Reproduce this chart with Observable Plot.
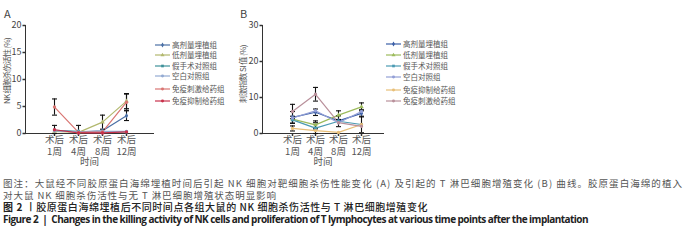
<!DOCTYPE html>
<html><head><meta charset="utf-8">
<script src="https://cdn.jsdelivr.net/npm/d3@7"></script>
<script src="https://cdn.jsdelivr.net/npm/@observablehq/plot@0.6"></script>
<style>
body{margin:0;background:#fff;font-family:"Noto Sans CJK SC","Noto Sans",sans-serif;}
#root{position:relative;width:700px;height:250px;overflow:hidden;background:#fff;}
.panel{position:absolute;font-size:11px;color:#444;line-height:1;}
.ylab{position:absolute;font-size:8px;color:#555;white-space:nowrap;line-height:1;}
.leg{position:absolute;font-size:7.5px;color:#555;display:flex;align-items:center;white-space:nowrap;line-height:1;}
.leg svg{margin-right:2px;}
.cap{position:absolute;left:3px;white-space:nowrap;line-height:1;}
</style></head><body><div id="root"></div>
<script>
// ---------- data ----------
const weeks = ["术后\n1周", "术后\n4周", "术后\n8周", "术后\n12周"];

const groupsA = ["高剂量埋植组", "低剂量埋植组", "假手术对照组", "空白对照组", "免疫刺激给药组", "免疫抑制给药组"];
const colorsA = ["#4a6fa5", "#b2b86e", "#3d9099", "#93aad2", "#d97572", "#c8304a"];
const symbolsA = ["diamond", "triangle", "square", "circle", "circle", "circle"];
const yTicksA = [0, 5, 10, 15, 20];
const nkHigh = [0.5, 0.3, 0.5, 3.3];
const nkLow = [0.4, 0.2, 2.1, 6.0];
const nkSham = [0.6, 0.4, 0.3, 0.3];
const nkBlank = [0.5, 0.3, 0.4, 0.4];
const nkStim = [4.9, 0.2, 0.3, 5.8];
const nkSupp = [0.7, 0.1, 0.1, 0.3];
const nkHighErr = [null, null, null, 0.9];
const nkLowErr = [null, null, 1.3, 1.4];
const nkShamErr = [null, 1.1, null, null];
const nkStimErr = [1.5, null, null, 1.5];
const nkSuppErr = [0.8, null, null, null];

const groupsB = ["高剂量埋植组", "低剂量埋植组", "假手术对照组", "空白对照组", "免疫抑制给药组", "免疫刺激给药组"];
const colorsB = ["#3a5ea6", "#9cbb5c", "#4a9ab2", "#939fd6", "#e8bf78", "#b9909b"];
const symbolsB = ["diamond", "triangle", "square", "circle", "circle", "circle"];
const yTicksB = [0, 10, 20, 30];
const siHigh = [4.5, 5.9, 3.5, 5.6];
const siLow = [4.0, 2.4, 5.1, 7.4];
const siSham = [3.8, 1.5, 3.4, 2.5];
const siBlank = [4.3, 6.3, 3.0, 6.1];
const siSupp = [1.4, 0.8, 0.3, 2.5];
const siStim = [6.1, 10.9, 3.0, 2.0];
const siHighErr = [1.6, 0.9, null, 1.0];
const siLowErr = [null, 1.1, 1.2, 1.1];
const siShamErr = [1.0, 1.5, 1.5, 2.3];
const siSuppErr = [0.7, null, null, null];
const siStimErr = [2.0, 1.9, null, null];

// ---------- build tables ----------
function table(groups, series, errs) {
  const rows = [];
  groups.forEach((g, i) => series[i].forEach((v, j) => rows.push({group: g, week: weeks[j], value: v, err: errs[i] ? errs[i][j] : null})));
  return rows;
}
const dataA = table(groupsA, [nkHigh, nkLow, nkSham, nkBlank, nkStim, nkSupp], [nkHighErr, nkLowErr, nkShamErr, null, nkStimErr, nkSuppErr]);
const dataB = table(groupsB, [siHigh, siLow, siSham, siBlank, siSupp, siStim], [siHighErr, siLowErr, siShamErr, null, siSuppErr, siStimErr]);

const cap = {draw(ctx) { ctx.moveTo(-2.5, 0); ctx.lineTo(2.5, 0); }};
const hTick = {draw(ctx) { ctx.moveTo(-3, 0); ctx.lineTo(0, 0); }};
const vTick = {draw(ctx) { ctx.moveTo(0, 0); ctx.lineTo(0, 2.5); }};
const font = '"Noto Sans CJK SC", "Noto Sans", sans-serif';

function panel(data, groups, colors, symbols, ymax, yticks, xrange, marginLeft, width) {
  const errs = data.filter(d => d.err != null);
  return Plot.plot({
    width: width, height: 175,
    marginLeft: marginLeft, marginRight: 2, marginTop: 25, marginBottom: 42,
    style: {fontSize: "9px", fontFamily: font, color: "#555", background: "transparent", overflow: "visible"},
    x: {type: "point", domain: weeks, range: xrange, axis: null},
    y: {domain: [0, ymax], axis: null},
    color: {domain: groups, range: colors},
    symbol: {domain: groups, range: symbols},
    marks: [
      Plot.frame({anchor: "left", stroke: "#333"}),
      Plot.frame({anchor: "bottom", stroke: "#333"}),
      Plot.dot(yticks, {y: d => d, frameAnchor: "left", symbol: hTick, stroke: "#333", r: 2}),
      Plot.text(yticks, {y: d => d, text: d => String(d), frameAnchor: "left", textAnchor: "end", dx: -4, fontSize: 9, fill: "#444"}),
      Plot.dot(weeks, {x: d => d, frameAnchor: "bottom", symbol: vTick, stroke: "#333", r: 2}),
      Plot.text(weeks, {x: d => d, text: d => d, frameAnchor: "bottom", lineAnchor: "top", dy: 1.5, lineHeight: 1.25, fontSize: 9.5, fill: "#555"}),
      Plot.text(["时间"], {frameAnchor: "bottom", dy: 31, fontSize: 9.5, fill: "#555"}),
      Plot.line(data, {x: "week", y: "value", z: "group", stroke: "group", strokeWidth: 1.2}),
      Plot.ruleX(errs, {x: "week", y1: d => Math.max(0, d.value - d.err), y2: d => d.value + d.err, stroke: "#111", strokeWidth: 1.1}),
      Plot.dot(errs, {x: "week", y: d => d.value + d.err, symbol: cap, stroke: "#111", strokeWidth: 1.1, r: 2}),
      Plot.dot(errs, {x: "week", y: d => Math.max(0, d.value - d.err), symbol: cap, stroke: "#111", strokeWidth: 1.1, r: 2}),
      Plot.dot(data, {x: "week", y: "value", fill: "group", symbol: "group", r: 1.7})
    ]
  });
}

const root = document.getElementById("root");

const pA = panel(dataA, groupsA, colorsA, symbolsA, 20, yTicksA, [42, 138], 25, 155);
pA.style.position = "absolute"; pA.style.left = "0px"; pA.style.top = "0px";
root.appendChild(pA);

const pB = panel(dataB, groupsB, colorsB, symbolsB, 30, yTicksB, [49, 144], 32, 155);
pB.style.position = "absolute"; pB.style.left = "230px"; pB.style.top = "0px";
root.appendChild(pB);

function div(cls, txt, x, y) {
  const d = document.createElement("div");
  d.className = cls; d.textContent = txt; d.style.left = x + "px"; d.style.top = y + "px";
  root.appendChild(d);
  return d;
}
function fitWidth(d, target) {
  const w = d.getBoundingClientRect().width;
  d.style.letterSpacing = ((target - w) / d.textContent.length) + "px";
}
div("panel", "A", 4, 8);
div("panel", "B", 240, 8);
function ylab(txt, cx, cy, len) {
  const d = div("ylab", txt, 0, 0);
  fitWidth(d, len);
  const r = d.getBoundingClientRect();
  d.style.left = (cx - r.width / 2) + "px";
  d.style.top = (cy - r.height / 2) + "px";
  d.style.transform = "rotate(-90deg)";
}
ylab("NK 细胞杀伤活性 (%)", 7, 71, 66);
ylab("刺激指数 SI 值 (%)", 243, 74, 58);

function legend(groups, colors, symbols, x, ys) {
  groups.forEach((g, i) => {
    const d = document.createElement("div");
    d.className = "leg";
    d.style.left = x + "px"; d.style.top = (ys[i] - 5) + "px"; d.style.height = "10px";
    const type = symbols[i] === "diamond" ? d3.symbolDiamond : symbols[i] === "triangle" ? d3.symbolTriangle : symbols[i] === "square" ? d3.symbolSquare : d3.symbolCircle;
    const sym = d3.symbol(type, 7)();
    d.innerHTML = `<svg width="15" height="10"><line x1="0" x2="15" y1="5" y2="5" stroke="${colors[i]}" stroke-width="1.2"/><path d="${sym}" transform="translate(7.5,5)" fill="${colors[i]}"/></svg><span>${g}</span>`;
    root.appendChild(d);
  });
}
legend(groupsA, colorsA, symbolsA, 155, [45, 55, 66, 76, 89, 101]);
legend(groupsB, colorsB, symbolsB, 386, [44, 55, 66, 77, 90, 101]);

// ---------- caption ----------
const capLines = [
  {t: "图注：大鼠经不同胶原蛋白海绵埋植时间后引起 NK 细胞对靶细胞杀伤性能变化 (A) 及引起的 T 淋巴细胞增殖变化 (B) 曲线。胶原蛋白海绵的植入", y: 185, end: 683, size: 9.5, color: "#555", weight: 400},
  {t: "对大鼠 NK 细胞杀伤活性与无 T 淋巴细胞增殖状态明显影响", y: 196.5, end: 277, size: 9.5, color: "#555", weight: 400},
  {t: "<b>图 2</b> 丨胶原蛋白海绵埋植后不同时间点各组大鼠的 NK 细胞杀伤活性与 T 淋巴细胞增殖变化", y: 208, end: 428, size: 10, color: "#222", weight: 500},
  {t: "Figure 2 &nbsp;|&nbsp; Changes in the killing activity of NK cells and proliferation of T lymphocytes at various time points after the implantation", y: 219.5, end: 588, size: 10, color: "#222", weight: 700, fam: '"Open Sans", "Liberation Sans", sans-serif'}
];
capLines.forEach(c => {
  const d = document.createElement("div");
  d.className = "cap";
  d.innerHTML = c.t;
  d.style.fontSize = c.size + "px"; d.style.color = c.color; d.style.fontWeight = c.weight;
  if (c.fam) d.style.fontFamily = c.fam;
  d.style.top = (c.y - c.size / 2 - 1) + "px";
  root.appendChild(d);
  fitWidth(d, c.end - 3);
});
</script></body></html>
